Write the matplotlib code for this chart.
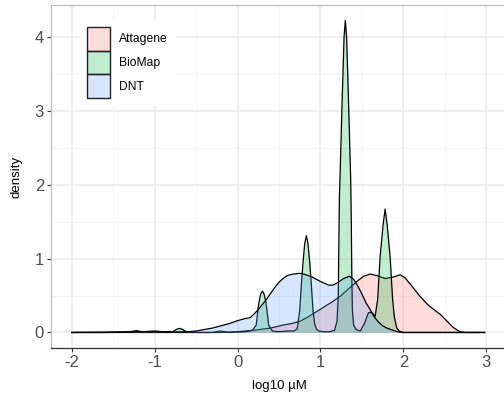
import matplotlib
matplotlib.use("Agg")
import matplotlib.pyplot as plt
from matplotlib.patches import Patch

plt.rcParams['font.family'] = ['Liberation Sans', 'DejaVu Sans']
plt.rcParams['axes.unicode_minus'] = False

groups = ["Attagene", "BioMap", "DNT"]
fills = ["#F8766D", "#00BA38", "#619CFF"]

# density curves (x = log10 uM, y = density)
attagene_x = [-2.0, -0.2, 0.0, 0.2, 0.4, 0.55, 0.65, 0.75, 0.85, 0.95, 1.05, 1.15, 1.25, 1.35,
              1.45, 1.52, 1.6, 1.68, 1.78, 1.88, 1.96, 2.02, 2.1, 2.2, 2.3, 2.38, 2.45, 2.52,
              2.6, 2.68, 2.75, 2.98]
attagene_y = [0.0, 0.0, 0.01, 0.03, 0.06, 0.10, 0.12, 0.15, 0.21, 0.28, 0.35, 0.42, 0.50, 0.60,
              0.70, 0.76, 0.79, 0.77, 0.73, 0.75, 0.78, 0.74, 0.63, 0.49, 0.37, 0.30, 0.24, 0.16,
              0.07, 0.01, 0.0, 0.0]

biomap_x = [-2.0, -1.6, -1.3, -1.22, -1.15, -1.0, -0.9, -0.78, -0.74, -0.70, -0.66, -0.62, -0.5,
            -0.3, -0.21, -0.1, 0.1, 0.18, 0.225, 0.245, 0.26, 0.28, 0.30, 0.32, 0.34, 0.355,
            0.375, 0.42, 0.5, 0.6, 0.68, 0.72, 0.75, 0.77, 0.79, 0.81, 0.83, 0.85, 0.87, 0.89,
            0.91, 0.93, 0.95, 0.98, 1.03, 1.11, 1.17, 1.20, 1.215, 1.222, 1.228, 1.236, 1.262,
            1.285, 1.30, 1.315, 1.338, 1.364, 1.372, 1.378, 1.385, 1.40, 1.43, 1.48, 1.53, 1.58,
            1.62, 1.66, 1.69, 1.72, 1.755, 1.78, 1.805, 1.84, 1.87, 1.89, 1.92, 1.95, 2.0, 2.98]
biomap_y = [0.0, 0.0, 0.01, 0.025, 0.01, 0.02, 0.01, 0.01, 0.04, 0.055, 0.04, 0.01, 0.0,
            0.0, 0.02, 0.0, 0.01, 0.03, 0.10, 0.30, 0.42, 0.52, 0.56, 0.52, 0.42, 0.30,
            0.10, 0.02, 0.01, 0.02, 0.02, 0.05, 0.30, 0.65, 0.95, 1.20, 1.31, 1.20, 0.95, 0.65,
            0.30, 0.12, 0.05, 0.02, 0.01, 0.01, 0.03, 0.15, 0.50, 1.20, 1.80, 2.10, 3.15,
            4.00, 4.22, 4.00, 3.15, 2.10, 1.50, 0.80, 0.30, 0.10, 0.04, 0.02, 0.12, 0.27,
            0.27, 0.22, 0.45, 1.03, 1.45, 1.67, 1.45, 1.03, 0.45, 0.22, 0.06, 0.02, 0.0, 0.0]

dnt_x = [-2.0, -1.5, -1.2, -1.0, -0.8, -0.6, -0.5, -0.4, -0.3, -0.2, -0.1, 0.0, 0.1, 0.15,
         0.2, 0.25, 0.3, 0.35, 0.4, 0.45, 0.5, 0.55, 0.6, 0.67, 0.75, 0.8, 0.9, 1.0, 1.1,
         1.15, 1.2, 1.28, 1.35, 1.4, 1.45, 1.5, 1.55, 1.6, 1.65, 1.7, 1.75, 1.8, 1.85, 1.9,
         1.95, 2.0, 2.98]
dnt_y = [0.0, 0.005, 0.01, 0.01, 0.005, 0.01, 0.02, 0.04, 0.06, 0.09, 0.12, 0.16, 0.19, 0.20,
         0.25, 0.31, 0.38, 0.45, 0.53, 0.61, 0.68, 0.73, 0.77, 0.79, 0.80, 0.79, 0.75, 0.69, 0.64,
         0.64, 0.67, 0.73, 0.76, 0.72, 0.63, 0.52, 0.40, 0.31, 0.21, 0.14, 0.09, 0.06, 0.04, 0.02,
         0.005, 0.0, 0.0]

xticks = [-2, -1, 0, 1, 2, 3]
yticks = [0, 1, 2, 3, 4]


def main():
	fig = plt.figure(figsize=(5.04, 3.99), dpi=100)
	ax = fig.add_axes([51 / 504, 51 / 399, 456 / 504, 343 / 399])

	curves = [(attagene_x, attagene_y), (biomap_x, biomap_y), (dnt_x, dnt_y)]
	for i, (xs, ys) in enumerate(curves):
		ax.fill_between(xs, 0, ys, color=fills[i], alpha=0.25, linewidth=0, zorder=3 + i)
		ax.plot(xs, ys, color="black", linewidth=0.9, zorder=3 + i)

	ax.set_xlim(-2.25, 3.25)
	ax.set_ylim(-0.21, 4.43)
	ax.set_xticks(xticks)
	ax.set_yticks(yticks)
	ax.set_xticks([-1.5, -0.5, 0.5, 1.5, 2.5], minor=True)
	ax.set_yticks([0.5, 1.5, 2.5, 3.5], minor=True)
	ax.grid(True, which="major", color="#EBEBEB", linewidth=1.1)
	ax.grid(True, which="minor", color="#F2F2F2", linewidth=0.6)
	ax.set_axisbelow(True)

	ax.tick_params(which="major", length=3, width=0.8, color="#333333",
	               labelsize=12, labelcolor="#4D4D4D", pad=2)
	ax.tick_params(which="minor", length=0)
	for s in ["top", "left", "right"]:
		ax.spines[s].set_color("#BEBEBE")
		ax.spines[s].set_linewidth(0.9)
	ax.spines["bottom"].set_color("#333333")
	ax.spines["bottom"].set_linewidth(0.9)

	ax.set_xlabel("log10 \u00b5M", fontsize=9.5, labelpad=7)
	ax.set_ylabel("density", fontsize=9.5, labelpad=9)

	handles = [Patch(facecolor=matplotlib.colors.to_rgba(c, 0.25), edgecolor="#222222", linewidth=1.0)
	           for c in fills]
	leg = ax.legend(handles, groups, loc="upper left", bbox_to_anchor=(0.064, 0.956),
	                fontsize=8.7, frameon=True, fancybox=False, framealpha=1, edgecolor="white",
	                handlelength=1.95, handleheight=2.65, labelspacing=0.0, handletextpad=0.75,
	                borderpad=0.55, borderaxespad=0)
	leg.set_zorder(10)

	fig.savefig("out.png", dpi=100)


if __name__ == "__main__":
	main()
